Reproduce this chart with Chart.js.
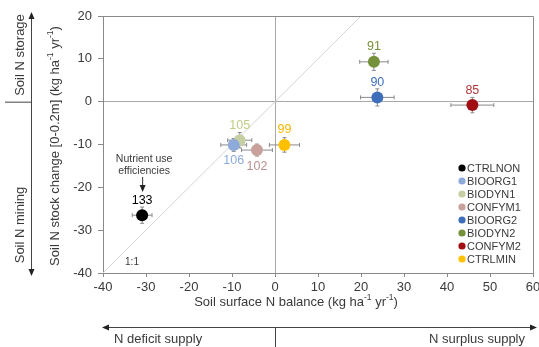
<!DOCTYPE html>
<html>
<head>
<meta charset="utf-8">
<script src="https://cdn.jsdelivr.net/npm/chart.js@4"></script>
<style>
  html, body { margin: 0; padding: 0; background: #fff; }
  #wrap { width: 539px; height: 347px; }
</style>
</head>
<body>
<div id="wrap"><canvas id="myChart" width="539" height="347"></canvas></div>
<script>
; ((D) => {

  // treatments and values
  let treatments = ['CTRLNON', 'BIOORG1', 'BIODYN1', 'CONFYM1', 'BIOORG2', 'BIODYN2', 'CONFYM2', 'CTRLMIN'];
  let nBalance = [-30.9, -9.6, -8.2, -4.2, 23.8, 23.0, 45.9, 2.2];
  let nStock = [-26.5, -10.1, -9.0, -11.3, 1.0, 9.3, -0.8, -10.1];
  let balanceErr = [2.3, 3.0, 2.8, 3.6, 3.9, 3.3, 5.0, 3.5];
  let stockErr = [1.9, 1.5, 1.8, 1.4, 2.0, 2.0, 1.8, 1.7];
  let nue = [133, 106, 105, 102, 90, 91, 85, 99];
  let labelBelow = [false, true, false, true, false, false, false, false];
  let xTicks = [-40, 60, 10];
  let yTicks = [-40, 20, 10];
  let oneToOne = [-40, 20];

  let sColors = ['#000000', '#8eaadb', '#c6cfa3', '#c9a19c', '#3f6fba', '#76913b', '#a00d12', '#ffc000'];
  let lColors = ['#000000', '#8eaadb', '#c2cc86', '#b9918d', '#3f6fba', '#76913b', '#b03a3a', '#f5b800'];

  let font = 'Arial, "Liberation Sans", sans-serif';
  let txt = '#3a3a3a';

  let objs = [];
  for (let i = 0; i < treatments.length; i++) {
    objs.push({
      type: 'scatter',
      label: treatments[i],
      data: [{ x: nBalance[i], y: nStock[i] }],
      backgroundColor: sColors[i],
      borderColor: sColors[i],
      pointRadius: 6,
      pointBorderWidth: 0,
    });
  }
  objs.push({
    type: 'line',
    label: '1:1',
    data: [{ x: oneToOne[0], y: oneToOne[0] }, { x: oneToOne[1], y: oneToOne[1] }],
    borderColor: '#d4d4d4',
    borderWidth: 1,
    pointRadius: 0,
    order: 10,
  });

  let errorBars = {
    id: 'errorBars',
    beforeDatasetsDraw(chart) {
      let c = chart.ctx, xs = chart.scales.x, ys = chart.scales.y;
      c.save();
      c.strokeStyle = '#8a8a8a';
      c.lineWidth = 1;
      for (let i = 0; i < treatments.length; i++) {
        let px = xs.getPixelForValue(nBalance[i]);
        let py = ys.getPixelForValue(nStock[i]);
        let x0 = xs.getPixelForValue(nBalance[i] - balanceErr[i]);
        let x1 = xs.getPixelForValue(nBalance[i] + balanceErr[i]);
        let y0 = ys.getPixelForValue(nStock[i] - stockErr[i]);
        let y1 = ys.getPixelForValue(nStock[i] + stockErr[i]);
        c.beginPath();
        c.moveTo(x0, py); c.lineTo(x1, py);
        c.moveTo(x0, py - 2); c.lineTo(x0, py + 2);
        c.moveTo(x1, py - 2); c.lineTo(x1, py + 2);
        c.moveTo(px, y0); c.lineTo(px, y1);
        c.moveTo(px - 2, y0); c.lineTo(px + 2, y0);
        c.moveTo(px - 2, y1); c.lineTo(px + 2, y1);
        c.stroke();
      }
      c.restore();
    }
  };

  let pointLabels = {
    id: 'pointLabels',
    afterDatasetsDraw(chart) {
      let c = chart.ctx, xs = chart.scales.x, ys = chart.scales.y;
      c.save();
      c.font = '12.5px ' + font;
      c.textAlign = 'center';
      c.textBaseline = 'middle';
      for (let i = 0; i < treatments.length; i++) {
        let px = xs.getPixelForValue(nBalance[i]);
        let py = ys.getPixelForValue(nStock[i]);
        c.fillStyle = lColors[i];
        c.fillText(String(nue[i]), px, labelBelow[i] ? py + 16 : py - 15);
      }
      c.restore();
    }
  };

  let arrowHead = (c, x, y, dx, dy) => {
    let s = 7, w = 3;
    c.beginPath();
    c.moveTo(x, y);
    c.lineTo(x - dx * s - dy * w, y - dy * s + dx * w);
    c.lineTo(x - dx * s + dy * w, y - dy * s - dx * w);
    c.closePath();
    c.fill();
  };

  let decor = {
    id: 'decor',
    afterDraw(chart) {
      let c = chart.ctx, a = chart.chartArea, xs = chart.scales.x, ys = chart.scales.y;
      c.save();
      // frame top and right
      c.strokeStyle = '#8a8a8a';
      c.lineWidth = 1;
      c.beginPath();
      c.moveTo(a.left, a.top + 0.5); c.lineTo(a.right + 0.5, a.top + 0.5);
      c.lineTo(a.right + 0.5, a.bottom);
      c.stroke();

      c.fillStyle = txt;
      c.strokeStyle = '#333';
      c.font = '10.5px ' + font;
      c.textAlign = 'center';
      c.textBaseline = 'middle';
      let lx = xs.getPixelForValue(nBalance[0]);
      c.fillText('Nutrient use', lx + 2, 159);
      c.fillText('efficiencies', lx + 2, 171);
      c.beginPath(); c.moveTo(lx + 0.5, 177); c.lineTo(lx + 0.5, 188); c.stroke();
      c.fillStyle = '#222';
      arrowHead(c, lx + 0.5, 192, 0, 1);
      c.fillStyle = txt;
      c.font = '10px ' + font;
      c.fillText('1:1', 132, 262);

      // legend
      c.font = '11px ' + font;
      c.textAlign = 'left';
      for (let i = 0; i < treatments.length; i++) {
        let y = 168 + i * 13;
        c.fillStyle = sColors[i];
        c.beginPath(); c.arc(462, y, 3.6, 0, Math.PI * 2); c.fill();
        c.fillStyle = txt;
        c.fillText(treatments[i], 467, y + 0.5);
      }

      // axis titles with superscripts
      let sup = (parts, cx, cy, rot) => {
        c.save();
        c.translate(cx, cy);
        if (rot) c.rotate(-Math.PI / 2);
        let w = 0;
        for (const p of parts) { c.font = (p[1] ? '8.5px ' : '13px ') + font; w += c.measureText(p[0]).width; }
        let x = -w / 2;
        c.textAlign = 'left';
        for (const p of parts) {
          c.font = (p[1] ? '8.5px ' : '13px ') + font;
          c.fillText(p[0], x, p[1] ? -4 : 0);
          x += c.measureText(p[0]).width;
        }
        c.restore();
      };
      c.fillStyle = txt;
      sup([['Soil N stock change [0-0.2m] (kg ha', 0], ['-1', 1], [' yr', 0], ['-1', 1], [')', 0]], 55, 146, true);
      sup([['Soil surface N balance (kg ha', 0], ['-1', 1], [' yr', 0], ['-1', 1], [')', 0]], 296, 302, false);

      // left arrows
      c.strokeStyle = '#444';
      c.fillStyle = '#222';
      c.beginPath();
      c.moveTo(31.5, 16); c.lineTo(31.5, 271);
      c.moveTo(5, ys.getPixelForValue(0) + 0.5); c.lineTo(31.5, ys.getPixelForValue(0) + 0.5);
      c.stroke();
      arrowHead(c, 31.5, 12, 0, -1);
      arrowHead(c, 31.5, 276, 0, 1);
      c.fillStyle = txt;
      c.font = '13px ' + font;
      c.textAlign = 'center';
      c.save(); c.translate(20, 55); c.rotate(-Math.PI / 2); c.fillText('Soil N storage', 0, 0); c.restore();
      c.save(); c.translate(20, 225); c.rotate(-Math.PI / 2); c.fillText('Soil N mining', 0, 0); c.restore();

      // bottom arrows
      let zx = xs.getPixelForValue(0);
      c.beginPath();
      c.moveTo(106, 327.5); c.lineTo(533, 327.5);
      c.moveTo(zx + 0.5, 327.5); c.lineTo(zx + 0.5, 347);
      c.stroke();
      c.fillStyle = '#222';
      arrowHead(c, 102, 327.5, -1, 0);
      arrowHead(c, 537, 327.5, 1, 0);
      c.fillStyle = txt;
      c.textAlign = 'left';
      c.fillText('N deficit supply', 114, 339);
      c.textAlign = 'right';
      c.fillText('N surplus supply', 525, 339);
      c.restore();
    }
  };

  let zeroGrid = ctx => (ctx.tick && ctx.tick.value === 0) ? '#a8a8a8' : 'rgba(0,0,0,0)';

  let ctx = D.querySelector('#myChart').getContext('2d');
  let chart = new Chart(ctx, {
    type: 'scatter',
    data: { datasets: objs },
    options: {
      responsive: false,
      animation: false,
      layout: { padding: { top: 16, right: 5, left: 0, bottom: 0 } },
      plugins: { legend: { display: false }, tooltip: { enabled: false } },
      scales: {
        x: {
          type: 'linear',
          min: xTicks[0], max: xTicks[1],
          ticks: { stepSize: xTicks[2], color: txt, font: { family: font, size: 13 }, padding: 3 },
          grid: { color: zeroGrid, tickColor: '#8a8a8a', tickLength: 4, drawTicks: true },
          border: { display: true, color: '#8a8a8a' },
          afterFit: s => { s.height = 74; s.paddingLeft = 0; s.paddingRight = 0; },
        },
        y: {
          type: 'linear',
          min: yTicks[0], max: yTicks[1],
          ticks: { stepSize: yTicks[2], color: txt, font: { family: font, size: 13 }, padding: 6 },
          grid: { color: zeroGrid, tickColor: '#8a8a8a', tickLength: 5, drawTicks: true },
          border: { display: true, color: '#8a8a8a' },
          afterFit: s => { s.width = 103; s.paddingTop = 0; s.paddingBottom = 0; },
        },
      },
    },
    plugins: [errorBars, pointLabels, decor],
  });
})(document)
</script>
</body>
</html>
